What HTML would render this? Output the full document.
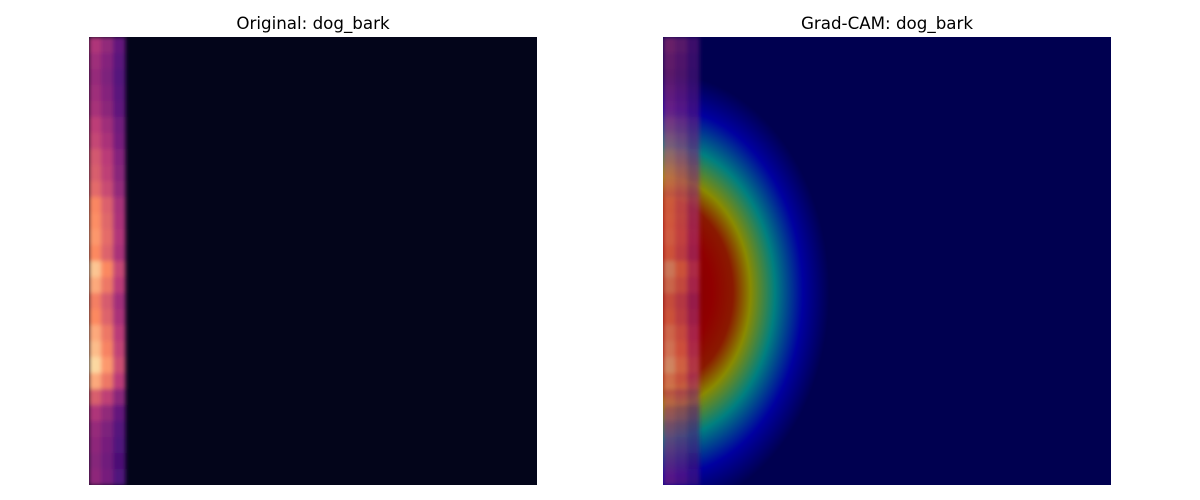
<!DOCTYPE html>
<html><head><meta charset="utf-8">
<style>
body{margin:0;background:#fff;width:1200px;height:500px;overflow:hidden;font-family:"DejaVu Sans","Liberation Sans",sans-serif}
svg{display:block}
</style></head>
<body>
<svg id="fig" width="1200" height="500">
<defs>
<filter id="blur" x="-20%" y="-5%" width="140%" height="110%"><feGaussianBlur stdDeviation="2"/></filter>
<radialGradient id="jet" cx="0.5" cy="0.5" r="0.5">
<stop offset="0" stop-color="#7a0000"/>
<stop offset="0.28" stop-color="#900000"/>
<stop offset="0.4" stop-color="#8a1a00"/>
<stop offset="0.5" stop-color="#8a8a00"/>
<stop offset="0.64" stop-color="#008080"/>
<stop offset="0.8" stop-color="#0000a0"/>
<stop offset="0.95" stop-color="#000050"/>
<stop offset="1" stop-color="#000050"/>
</radialGradient>
<clipPath id="clipL"><rect x="89" y="37" width="448" height="448"/></clipPath>
<clipPath id="clipR"><rect x="663" y="37" width="448" height="448"/></clipPath>
</defs>
<text x="313" y="29" text-anchor="middle" font-size="16.7" fill="#000">Original: dog_bark</text>
<text x="887" y="29" text-anchor="middle" font-size="16.7" fill="#000">Grad-CAM: dog_bark</text>
<rect x="89" y="37" width="448" height="448" fill="#03051a"/>
<g id="specL" clip-path="url(#clipL)" filter="url(#blur)"></g>
<rect x="663" y="37" width="448" height="448" fill="#000050"/>
<g clip-path="url(#clipR)">
<ellipse cx="663" cy="292" rx="175" ry="230" fill="url(#jet)"/>
<g id="specR" filter="url(#blur)" opacity="0.6"></g>
</g>
</svg>
<script>
// per-row spectrogram energy (top to bottom), 28 rows
const rowEnergy=[0.48,0.44,0.42,0.44,0.46,0.52,0.55,0.6,0.62,0.66,0.74,0.76,0.78,0.75,0.88,0.82,0.72,0.75,0.82,0.86,0.92,0.82,0.62,0.48,0.42,0.4,0.38,0.4];
const colFactor=[1,0.85,0.62];
const colWidth=[12,12,12];
const stops=[[0,[0,0,4]],[0.25,[81,18,124]],[0.5,[183,55,121]],[0.75,[252,137,97]],[1,[252,253,191]]];
function magma(v){v=Math.max(0,Math.min(1,v));for(let i=1;i<stops.length;i++){if(v<=stops[i][0]){const a=stops[i-1],b=stops[i],t=(v-a[0])/(b[0]-a[0]);const c=a[1].map((x,k)=>Math.round(x+(b[1][k]-x)*t));return `rgb(${c})`;}}return 'rgb(252,253,191)';}
function draw(gid,x0){
  const g=document.getElementById(gid);const rh=448/rowEnergy.length;
  rowEnergy.forEach((e,r)=>{let x=x0;colFactor.forEach((f,c)=>{
    const rect=document.createElementNS('http://www.w3.org/2000/svg','rect');
    rect.setAttribute('x',x);rect.setAttribute('y',37+r*rh);
    rect.setAttribute('width',colWidth[c]+0.5);rect.setAttribute('height',rh+0.5);
    rect.setAttribute('fill',magma(e*f));
    
    
    g.appendChild(rect);x+=colWidth[c];});});
}
draw('specL',89);draw('specR',663);
</script>
</body></html>
